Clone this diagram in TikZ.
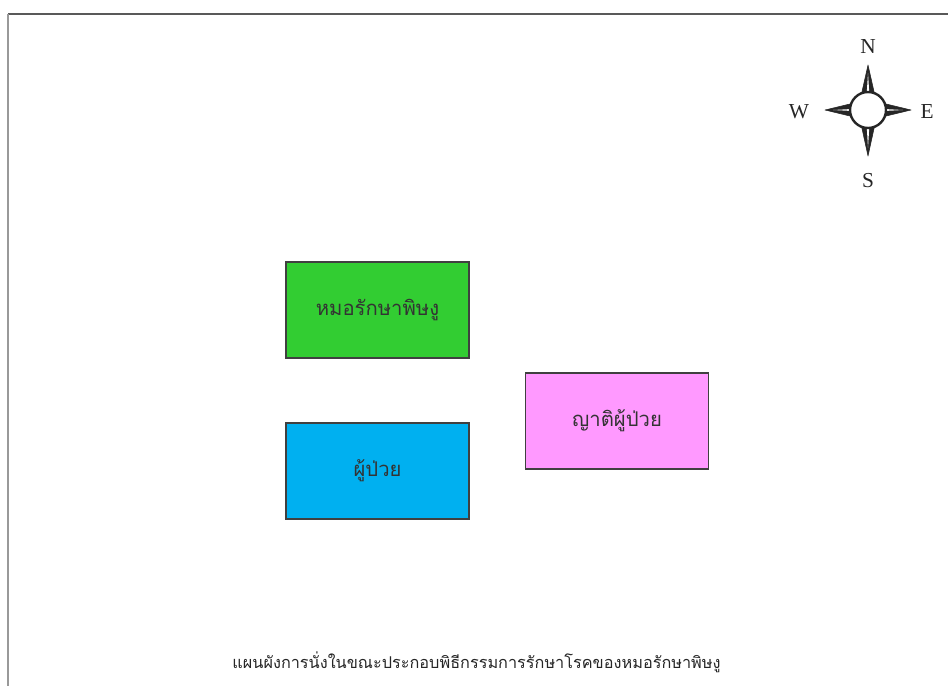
\documentclass[tikz,border=0pt]{standalone}
\usepackage{fontspec}
\newfontfamily\thaifont[Script=Thai]{Loma}
\setmainfont{Liberation Serif}
\begin{document}
\begin{tikzpicture}[x=0.75pt,y=-0.75pt,
  seat/.style={draw=black!75, line width=0.8pt, minimum width=137.25pt, minimum height=72pt, inner sep=0pt, font=\thaifont\fontsize{15.2pt}{18pt}\selectfont, text=black!80},
  dirlabel/.style={font=\fontsize{16pt}{18pt}\selectfont, text=black!85},
  spike/.style={fill=black!85, draw=black!85, line width=0.4pt, line join=round}
]
\useasboundingbox (0,0) rectangle (948,686);
\fill[white] (0,0) rectangle (948,686);
% frame
\draw[black!65, line width=1.5pt] (8,14) -- (948,14);
\draw[black!40, line width=1.5pt] (8,14) -- (8,686);
% boxes
\node[seat, fill={rgb,255:red,50;green,205;blue,50}] (doctor) at (377.5,310) {หมอรักษาพิษงู};
\node[seat, fill={rgb,255:red,0;green,176;blue,240}] (patient) at (377.5,471) {ผู้ป่วย};
\node[seat, fill={rgb,255:red,255;green,153;blue,255}] (relative) at (617,421) {ญาติผู้ป่วย};
% caption
\node[font=\thaifont\fontsize{12.2pt}{14pt}\selectfont, text=black!85] (caption) at (476.5,662) {แผนผังการนั่งในขณะประกอบพิธีกรรมการรักษาโรคของหมอรักษาพิษงู};
% compass
\coordinate (c) at (868,110);
\fill[spike] (861,96) -- (868,65) -- (875,96) -- cycle;
\fill[spike] (861,124) -- (868,156) -- (875,124) -- cycle;
\fill[spike] (854,103) -- (825,110) -- (854,117) -- cycle;
\fill[spike] (882,103) -- (911,110) -- (882,117) -- cycle;
\fill[white] (866.8,92) -- (868,73) -- (869.2,92) -- cycle;
\fill[white] (866.8,128) -- (868,148) -- (869.2,128) -- cycle;
\fill[white] (856,108.8) -- (833,110) -- (856,111.2) -- cycle;
\fill[white] (880,108.8) -- (903,110) -- (880,111.2) -- cycle;
\draw[black!85, line width=1.8pt, fill=white] (c) circle[radius=13.5pt];
\node[dirlabel] (n) at (868,47) {N};
\node[dirlabel] (s) at (868,181) {S};
\node[dirlabel] (w) at (799,112) {W};
\node[dirlabel] (e) at (927,112) {E};
\end{tikzpicture}
\end{document}
